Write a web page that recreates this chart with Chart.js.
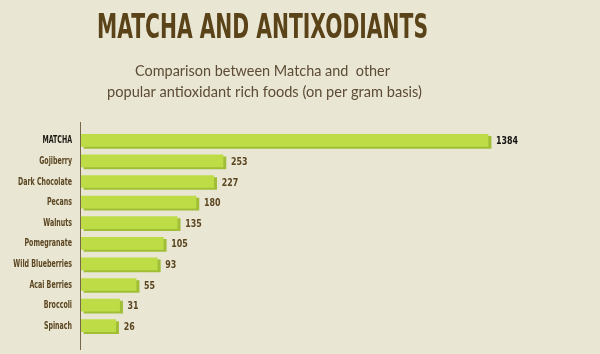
<!DOCTYPE html>
<html><head><meta charset="utf-8">
<script src="https://cdn.jsdelivr.net/npm/chart.js@4.4.1/dist/chart.umd.min.js"></script>
<style>html,body{margin:0;padding:0;background:#e9e6d3;overflow:hidden}#wrap{width:600px;height:354px;position:relative}</style>
</head><body><div id="wrap"><canvas id="c" width="600" height="354"></canvas></div>
<script>
const categories = ['MATCHA','Gojiberry','Dark Chocolate','Pecans','Walnuts','Pomegranate','Wild Blueberries','Acai Berries','Broccoli','Spinach'];
const antioxidantValues = [1384,253,227,180,135,105,93,55,31,26];
const titleText = 'MATCHA AND ANTIXODIANTS';
const subtitleLines = ['Comparison between Matcha and  other','popular antioxidant rich foods (on per gram basis)'];
const axisMax = 1400;
const powExponent = 0.62;

const NARROW = '"Liberation Sans Narrow", "DejaVu Sans Condensed", "Arial Narrow", sans-serif';

class PowScale extends Chart.LinearScale {
  _t(v){ return Math.sign(v) * Math.pow(Math.abs(v), powExponent); }
  getPixelForValue(value) {
    const a = this._t(this.min), b = this._t(this.max);
    return this.getPixelForDecimal((this._t(value) - a) / (b - a));
  }
  getValueForPixel(pixel) {
    const a = this._t(this.min), b = this._t(this.max);
    const tv = a + this.getDecimalForPixel(pixel) * (b - a);
    return Math.sign(tv) * Math.pow(Math.abs(tv), 1 / powExponent);
  }
}
PowScale.id = 'pow';
PowScale.defaults = Chart.LinearScale.defaults;
Chart.register(PowScale);

function scaledText(ctx, text, x, y, sx, align) {
  ctx.save();
  ctx.translate(x, y);
  ctx.scale(sx, 1);
  ctx.textAlign = align;
  ctx.fillText(text, 0, 0);
  ctx.restore();
}
function fitText(ctx, text, cx, y, targetW) {
  scaledText(ctx, text, cx, y, targetW / ctx.measureText(text).width, 'center');
}

const bgPlugin = {
  id: 'bg',
  beforeDraw(chart) {
    const ctx = chart.ctx;
    ctx.save();
    ctx.fillStyle = '#e9e6d3';
    ctx.fillRect(0, 0, chart.width, chart.height);
    ctx.fillStyle = '#5a4318';
    ctx.font = 'bold 33px ' + NARROW;
    ctx.textBaseline = 'alphabetic';
    fitText(ctx, titleText, 262.5, 38, 331);
    ctx.fillStyle = '#5d4c35';
    ctx.font = '15px Lato, "Open Sans", sans-serif';
    fitText(ctx, subtitleLines[0], 262.5, 76, 255);
    fitText(ctx, subtitleLines[1], 264.5, 97, 315);
    ctx.restore();
  }
};

const shadowPlugin = {
  id: 'barShadow',
  beforeDatasetDraw(chart) {
    const ctx = chart.ctx;
    ctx.save();
    ctx.shadowColor = '#a0be36';
    ctx.shadowOffsetX = 3;
    ctx.shadowOffsetY = 2;
    ctx.shadowBlur = 0;
  },
  afterDatasetDraw(chart) {
    chart.ctx.restore();
  }
};

const labelPlugin = {
  id: 'valueLabels',
  afterDraw(chart) {
    const ctx = chart.ctx;
    const meta = chart.getDatasetMeta(0);
    const yScale = chart.scales.y;
    ctx.save();
    ctx.textBaseline = 'middle';
    // category labels
    ctx.font = 'bold 10px ' + NARROW;
    const sCat = 54 / ctx.measureText('Dark Chocolate').width;
    yScale.getLabels().forEach((lab, i) => {
      ctx.fillStyle = i === 0 ? '#1c1914' : '#5b4621';
      scaledText(ctx, lab, 72, yScale.getPixelForTick(i) + 0.5, sCat, 'right');
    });
    // value labels
    ctx.font = 'bold 10px ' + NARROW;
    const sVal = 22 / ctx.measureText('1384').width;
    meta.data.forEach((el, i) => {
      ctx.fillStyle = i === 0 ? '#141210' : '#5b4621';
      scaledText(ctx, String(antioxidantValues[i]), el.x + 8, el.y + 1.5, sVal, 'left');
    });
    const x = Math.round(chart.chartArea.left) - 0.5;
    ctx.strokeStyle = '#76664a';
    ctx.lineWidth = 1;
    ctx.beginPath();
    ctx.moveTo(x, 122);
    ctx.lineTo(x, 350);
    ctx.stroke();
    ctx.restore();
  }
};

new Chart(document.getElementById('c'), {
  type: 'bar',
  data: {
    labels: categories,
    datasets: [{
      data: antioxidantValues,
      backgroundColor: '#bddc46',
      borderWidth: 0,
      barThickness: 12,
      clip: false
    }]
  },
  options: {
    indexAxis: 'y',
    responsive: false,
    animation: false,
    devicePixelRatio: 1,
    layout: { padding: { top: 130, bottom: 18, left: 0, right: 109 } },
    plugins: { legend: { display: false }, tooltip: { enabled: false }, title: { display: false } },
    scales: {
      x: { type: 'pow', min: 0, max: axisMax, display: false },
      y: {
        type: 'category',
        grid: { display: false, drawTicks: false },
        border: { display: false },
        ticks: { display: false },
        afterFit(s) { s.width = 81; }
      }
    }
  },
  plugins: [bgPlugin, shadowPlugin, labelPlugin]
});
</script>
</body></html>
